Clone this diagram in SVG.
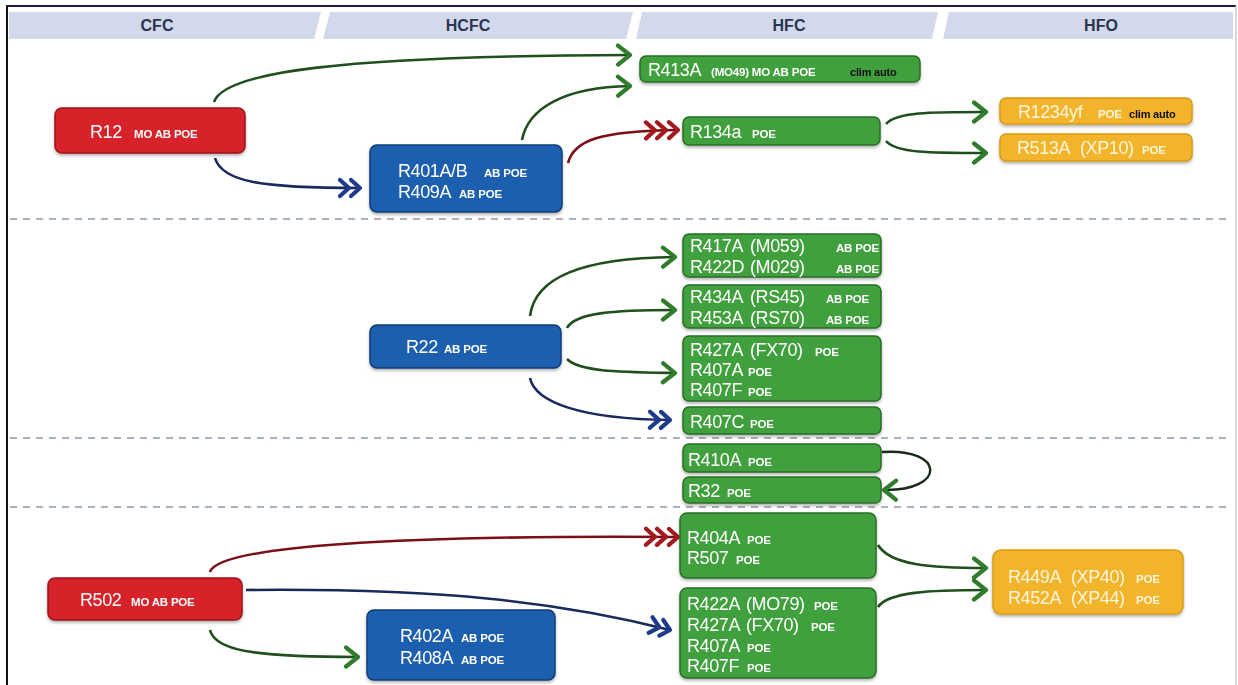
<svg xmlns="http://www.w3.org/2000/svg" width="1238" height="685" viewBox="0 0 1238 685">
<defs>
<style>
.hdr{fill:#d2d9ea}
.ht{font-family:"Liberation Sans",Arial,sans-serif;font-weight:bold;font-size:16px;fill:#2b3452;text-anchor:middle}
.red{fill:#d7232b;stroke:#9d1418;stroke-width:1.5}
.blue{fill:#1f5fae;stroke:#0f3c78;stroke-width:1.5}
.green{fill:#41a03c;stroke:#2a6e27;stroke-width:1.5}
.yel{fill:#f2b42c;stroke:#d69a16;stroke-width:1.5}
.m{font-family:"Liberation Sans",Arial,sans-serif;font-size:18px;letter-spacing:-0.4px;fill:#ffffff}
.s{font-family:"Liberation Sans",Arial,sans-serif;font-size:11.5px;font-weight:bold;letter-spacing:-0.2px;fill:#ffffff}
.k{font-family:"Liberation Sans",Arial,sans-serif;font-size:11px;font-weight:bold;letter-spacing:-0.2px;fill:#111111}
.yt{fill:#fff6dc}
.dash{stroke:#a9b1c2;stroke-width:2;stroke-dasharray:7 6;fill:none}
.cg{fill:none;stroke:#1e4f1c;stroke-width:2.6}
.cr{fill:none;stroke:#7a1015;stroke-width:2.6}
.cn{fill:none;stroke:#1b2a5c;stroke-width:2.6}
.ck{fill:none;stroke:#1a2a1a;stroke-width:2.4}
</style>
<filter id="sh" x="-10%" y="-10%" width="120%" height="140%">
<feDropShadow dx="0" dy="2" stdDeviation="1.5" flood-color="#000" flood-opacity="0.3"/>
</filter>
<marker id="ag" markerUnits="userSpaceOnUse" viewBox="0 0 22 24" markerWidth="22" markerHeight="24" refX="17" refY="12" orient="auto">
<path d="M5,2.5 L17,12 L5,21.5" fill="none" stroke="#2f7d2a" stroke-width="4.2" stroke-linecap="round" stroke-linejoin="round"/>
</marker>
<marker id="an" markerUnits="userSpaceOnUse" viewBox="0 0 26 22" markerWidth="26" markerHeight="22" refX="23" refY="11" orient="auto">
<path d="M3,3 L12,11 L3,19 M14,3 L23,11 L14,19" fill="none" stroke="#1d3a8c" stroke-width="4.2" stroke-linecap="round" stroke-linejoin="round"/>
</marker>
<marker id="ar" markerUnits="userSpaceOnUse" viewBox="0 0 38 22" markerWidth="38" markerHeight="22" refX="35" refY="11" orient="auto">
<path d="M3,3 L12,11 L3,19 M14,3 L23,11 L14,19 M26,3 L35,11 L26,19" fill="none" stroke="#a3191e" stroke-width="4.2" stroke-linecap="round" stroke-linejoin="round"/>
</marker>
<clipPath id="c417"><rect x="683" y="234" width="198" height="43" rx="6"/></clipPath>
</defs>

<rect x="0" y="0" width="1238" height="685" fill="#ffffff"/>
<line x1="6" y1="6" x2="1236" y2="6" stroke="#1c1a4a" stroke-width="2"/>
<line x1="7" y1="6" x2="7" y2="685" stroke="#111" stroke-width="2"/>
<line x1="1236" y1="6" x2="1236" y2="685" stroke="#c8c8d0" stroke-width="1.5"/>

<g id="headers">
<polygon class="hdr" points="9,12 321,12 314,39 9,39"/>
<polygon class="hdr" points="330,12 633,12 626,39 323,39"/>
<polygon class="hdr" points="642,12 938,12 932,39 636,39"/>
<polygon class="hdr" points="949,12 1233,12 1233,39 943,39"/>
<text class="ht" x="157" y="31">CFC</text>
<text class="ht" x="468" y="31">HCFC</text>
<text class="ht" x="789" y="31">HFC</text>
<text class="ht" x="1101" y="31">HFO</text>
</g>

<g id="separators">
<line class="dash" x1="10" y1="219" x2="1232" y2="219"/>
<line class="dash" x1="10" y1="438" x2="1232" y2="438"/>
<line class="dash" x1="10" y1="507" x2="1232" y2="507"/>
</g>

<g id="connectors">
<path class="cg" d="M214,102 C224,72 340,56 630,55" marker-end="url(#ag)"/>
<path class="cg" d="M522,140 C528,108 565,87 630,86" marker-end="url(#ag)"/>
<path class="cr" d="M568,163 C574,140 600,131 678,130" marker-end="url(#ar)"/>
<path class="cn" d="M215,158 C222,182 262,188 360,188" marker-end="url(#an)"/>
<path class="cg" d="M886,124 C896,112 930,112 986,112" marker-end="url(#ag)"/>
<path class="cg" d="M886,141 C896,153 930,153 986,153" marker-end="url(#ag)"/>
<path class="cg" d="M530,316 C535,278 580,258 675,257" marker-end="url(#ag)"/>
<path class="cg" d="M567,328 C575,313 612,310 675,310" marker-end="url(#ag)"/>
<path class="cg" d="M567,359 C580,372 620,372 675,373" marker-end="url(#ag)"/>
<path class="cn" d="M530,378 C535,402 580,419 670,420" marker-end="url(#an)"/>
<path class="ck" d="M882,452 C946,448 946,491 884,490" marker-end="url(#ag)"/>
<path class="cr" d="M210,572 C218,546 400,535 678,537" marker-end="url(#ar)"/>
<path class="cn" d="M246,590 C440,588 560,602 670,630" marker-end="url(#an)"/>
<path class="cg" d="M210,630 C215,650 250,657 358,657" marker-end="url(#ag)"/>
<path class="cg" d="M878,545 C890,565 930,568 986,568" marker-end="url(#ag)"/>
<path class="cg" d="M878,607 C888,592 930,590 986,590" marker-end="url(#ag)"/>
</g>

<g id="R12" filter="url(#sh)">
<rect class="red" x="55" y="108" width="190" height="45" rx="7"/>
<text class="m" x="90" y="138">R12<tspan class="s" x="134">MO AB POE</tspan></text>
</g>
<g id="R401A" filter="url(#sh)">
<rect class="blue" x="370" y="145" width="192" height="67" rx="7"/>
<text class="m" x="398" y="177">R401A/B<tspan class="s" x="484">AB POE</tspan></text>
<text class="m" x="398" y="198">R409A<tspan class="s" x="459">AB POE</tspan></text>
</g>
<g id="R413A" filter="url(#sh)">
<rect class="green" x="640" y="56" width="280" height="26" rx="6"/>
<text class="m" x="648" y="76">R413A<tspan class="s" x="711">(MO49) MO AB POE</tspan><tspan class="k" x="850">clim auto</tspan></text>
</g>
<g id="R134a" filter="url(#sh)">
<rect class="green" x="683" y="117" width="197" height="28" rx="6"/>
<text class="m" x="690" y="138">R134a<tspan class="s" x="752">POE</tspan></text>
</g>
<g id="R1234yf" filter="url(#sh)">
<rect class="yel" x="1000" y="98" width="192" height="26" rx="6"/>
<text class="m yt" x="1018" y="118">R1234yf<tspan class="s yt" x="1098">POE</tspan><tspan class="k" x="1129">clim auto</tspan></text>
</g>
<g id="R513A" filter="url(#sh)">
<rect class="yel" x="1000" y="134" width="192" height="27" rx="6"/>
<text class="m yt" x="1017" y="154">R513A<tspan x="1080">(XP10)</tspan><tspan class="s yt" x="1142">POE</tspan></text>
</g>

<g id="R22" filter="url(#sh)">
<rect class="blue" x="370" y="325" width="191" height="43" rx="7"/>
<text class="m" x="406" y="353">R22<tspan class="s" x="444">AB POE</tspan></text>
</g>
<g id="R417A" filter="url(#sh)">
<rect class="green" x="683" y="234" width="198" height="43" rx="6"/>
<g clip-path="url(#c417)">
<text class="m" x="690" y="252">R417A<tspan x="750">(M059)</tspan><tspan class="s" x="836">AB POE</tspan></text>
<text class="m" x="690" y="273">R422D<tspan x="750">(M029)</tspan><tspan class="s" x="836">AB POE</tspan></text>
</g>
</g>
<g id="R434A" filter="url(#sh)">
<rect class="green" x="683" y="285" width="198" height="43" rx="6"/>
<text class="m" x="690" y="303">R434A<tspan x="750">(RS45)</tspan><tspan class="s" x="826">AB POE</tspan></text>
<text class="m" x="690" y="324">R453A<tspan x="750">(RS70)</tspan><tspan class="s" x="826">AB POE</tspan></text>
</g>
<g id="R427A" filter="url(#sh)">
<rect class="green" x="683" y="336" width="198" height="65" rx="6"/>
<text class="m" x="690" y="356">R427A<tspan x="750">(FX70)</tspan><tspan class="s" x="815">POE</tspan></text>
<text class="m" x="690" y="376">R407A<tspan class="s" x="748">POE</tspan></text>
<text class="m" x="690" y="396">R407F<tspan class="s" x="748">POE</tspan></text>
</g>
<g id="R407C" filter="url(#sh)">
<rect class="green" x="683" y="407" width="198" height="27" rx="6"/>
<text class="m" x="690" y="428">R407C<tspan class="s" x="750">POE</tspan></text>
</g>

<g id="R410A" filter="url(#sh)">
<rect class="green" x="683" y="444" width="198" height="28" rx="6"/>
<text class="m" x="688" y="466">R410A<tspan class="s" x="748">POE</tspan></text>
</g>
<g id="R32" filter="url(#sh)">
<rect class="green" x="683" y="477" width="198" height="26" rx="6"/>
<text class="m" x="688" y="497">R32<tspan class="s" x="727">POE</tspan></text>
</g>

<g id="R502" filter="url(#sh)">
<rect class="red" x="48" y="578" width="194" height="42" rx="7"/>
<text class="m" x="80" y="606">R502<tspan class="s" x="131">MO AB POE</tspan></text>
</g>
<g id="R402A" filter="url(#sh)">
<rect class="blue" x="367" y="610" width="188" height="70" rx="7"/>
<text class="m" x="400" y="642">R402A<tspan class="s" x="461">AB POE</tspan></text>
<text class="m" x="400" y="664">R408A<tspan class="s" x="461">AB POE</tspan></text>
</g>
<g id="R404A" filter="url(#sh)">
<rect class="green" x="680" y="513" width="196" height="65" rx="7"/>
<text class="m" x="687" y="544">R404A<tspan class="s" x="747">POE</tspan></text>
<text class="m" x="687" y="564">R507<tspan class="s" x="736">POE</tspan></text>
</g>
<g id="R422A" filter="url(#sh)">
<rect class="green" x="680" y="588" width="196" height="90" rx="7"/>
<text class="m" x="687" y="610">R422A<tspan x="746">(MO79)</tspan><tspan class="s" x="814">POE</tspan></text>
<text class="m" x="687" y="631">R427A<tspan x="746">(FX70)</tspan><tspan class="s" x="811">POE</tspan></text>
<text class="m" x="687" y="652">R407A<tspan class="s" x="747">POE</tspan></text>
<text class="m" x="687" y="672">R407F<tspan class="s" x="747">POE</tspan></text>
</g>
<g id="R449A" filter="url(#sh)">
<rect class="yel" x="993" y="550" width="190" height="64" rx="8"/>
<text class="m yt" x="1008" y="583">R449A<tspan x="1071">(XP40)</tspan><tspan class="s yt" x="1136">POE</tspan></text>
<text class="m yt" x="1008" y="604">R452A<tspan x="1071">(XP44)</tspan><tspan class="s yt" x="1136">POE</tspan></text>
</g>
</svg>
